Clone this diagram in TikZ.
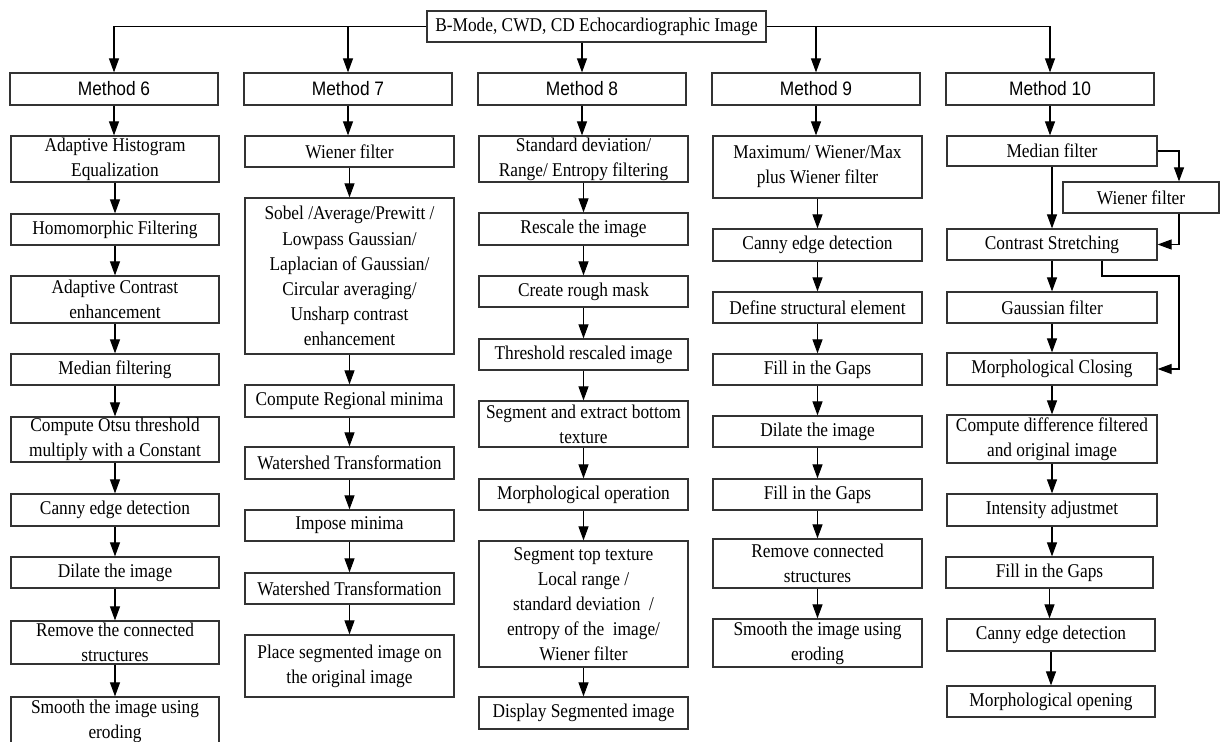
\documentclass[tikz,border=0pt]{standalone}
\usepackage{fontspec}
\setmainfont{Liberation Serif}
\newfontfamily\bodyfont{Liberation Serif}[FakeStretch=0.89]
\newfontfamily\headfont{Liberation Sans}[FakeStretch=0.89]
\usetikzlibrary{arrows.meta}

\tikzset{
  box/.style={draw=black!80, line width=0.9pt, inner sep=0pt, align=center,
    font=\bodyfont\fontsize{14.6pt}{18.8pt}\selectfont},
  headbox/.style={box, font=\headfont\fontsize{14.6pt}{18.8pt}\selectfont},
  link/.style={line width=0.8pt, draw=black},
  arr/.style={link, -{Triangle[length=10.5pt,width=7.5pt]}}
}

% \bx[style]{name}{x1}{y1}{x2}{y2}{text}: box given by its corners
\newcommand{\bx}[7][box]{%
  \node[#1, minimum width={(#5-#3)*0.75pt}, minimum height={(#6-#4)*0.75pt}]
    (#2) at ({(#3+#5)/2},{(#4+#6)/2}) {#7};}
% straight arrow from one box down to the next
\newcommand{\dn}[2]{\draw[arr] (#1) -- (#1 |- #2.north);}

\begin{document}
\begin{tikzpicture}[x=0.75pt, y=-0.75pt]
\useasboundingbox (0,0) rectangle (1221,742);
\clip (0,0) rectangle (1221,742);

% source
\bx{src}{427}{11}{766}{42}{B-Mode, CWD, CD Echocardiographic Image}

% method headers
\bx[headbox]{m6}{10}{73}{218}{105}{Method 6}
\bx[headbox]{m7}{244}{73}{452}{105}{Method 7}
\bx[headbox]{m8}{478}{73}{686}{105}{Method 8}
\bx[headbox]{m9}{712}{73}{920}{105}{Method 9}
\bx[headbox]{m10}{946}{73}{1154}{105}{Method 10}

% method 6
\bx{a1}{11}{136}{219}{182}{Adaptive Histogram\\Equalization}
\bx{a2}{11}{214}{219}{245}{Homomorphic Filtering}
\bx{a3}{11}{276}{219}{323}{Adaptive Contrast\\enhancement}
\bx{a4}{11}{354}{219}{385}{Median filtering}
\bx{a5}{11}{417}{219}{462}{Compute Otsu threshold\\multiply with a Constant}
\bx{a6}{11}{494}{219}{526}{Canny edge detection}
\bx{a7}{11}{557}{219}{588}{Dilate the image}
\bx{a8}{11}{621}{219}{664}{Remove the connected\\structures}
\bx{a9}{11}{697}{219}{745}{Smooth the image using\\eroding}

% method 7
\bx{b1}{245}{136}{454}{167}{Wiener filter}
\bx{b2}{245}{198}{454}{354}{Sobel /Average/Prewitt /\\Lowpass Gaussian/\\Laplacian of Gaussian/\\Circular averaging/\\Unsharp contrast\\enhancement}
\bx{b3}{245}{385}{454}{417}{Compute Regional minima}
\bx{b4}{245}{447}{454}{479}{Watershed Transformation}
\bx{b5}{245}{510}{454}{541}{Impose minima}
\bx{b6}{245}{573}{454}{604}{Watershed Transformation}
\bx{b7}{245}{635}{454}{697}{Place segmented image on\\the original image}

% method 8
\bx{c1}{479}{136}{688}{182}{Standard deviation/\\Range/ Entropy filtering}
\bx{c2}{479}{213}{688}{245}{Rescale the image}
\bx{c3}{479}{276}{688}{307}{Create rough mask}
\bx{c4}{479}{339}{688}{370}{Threshold rescaled image}
\bx{c5}{479}{401}{688}{447}{Segment and extract bottom\\texture}
\bx{c6}{479}{479}{688}{510}{Morphological operation}
\bx{c7}{479}{541}{688}{667}{Segment top texture\\Local range /\\standard deviation\ \ /\\entropy of the\ \ image/\\Wiener filter}
\bx{c8}{479}{697}{688}{729}{Display Segmented image}

% method 9
\bx{d1}{713}{136}{922}{198}{Maximum/ Wiener/Max\\plus Wiener filter}
\bx{d2}{713}{229}{922}{261}{Canny edge detection}
\bx{d3}{713}{292}{922}{323}{Define structural element}
\bx{d4}{713}{354}{922}{385}{Fill in the Gaps}
\bx{d5}{713}{416}{922}{447}{Dilate the image}
\bx{d6}{713}{479}{922}{510}{Fill in the Gaps}
\bx{d7}{713}{539}{922}{588}{Remove connected\\structures}
\bx{d8}{713}{619}{922}{667}{Smooth the image using\\eroding}

% method 10
\bx{e1}{947}{136}{1157}{166}{Median filter}
\bx{ew}{1063}{182}{1219}{213}{Wiener filter}
\bx{e2}{947}{229}{1157}{260}{Contrast Stretching}
\bx{e3}{947}{292}{1157}{323}{Gaussian filter}
\bx{e4}{947}{353}{1157}{385}{Morphological Closing}
\bx{e5}{947}{415}{1157}{463}{Compute difference filtered\\and original image}
\bx{e6}{947}{494}{1157}{526}{Intensity adjustmet}
\bx{e7}{946}{557}{1153}{588}{Fill in the Gaps}
\bx{e8}{947}{619}{1155}{651}{Canny edge detection}
\bx{e9}{947}{686}{1155}{717}{Morphological opening}

% source to methods
\draw[arr] (src.west) -| (m6);
\draw[arr] (src.west -| m7) -- (m7);
\draw[arr] (src.south -| m8) -- (m8);
\draw[arr] (src.east) -| (m10);
\draw[arr] (src.east -| m9) -- (m9);

% method 6 chain
\dn{m6}{a1} \dn{a1}{a2} \dn{a2}{a3} \dn{a3}{a4} \dn{a4}{a5}
\dn{a5}{a6} \dn{a6}{a7} \dn{a7}{a8} \dn{a8}{a9}

% method 7 chain
\dn{m7}{b1} \dn{b1}{b2} \dn{b2}{b3} \dn{b3}{b4} \dn{b4}{b5}
\dn{b5}{b6} \dn{b6}{b7}

% method 8 chain
\dn{m8}{c1} \dn{c1}{c2} \dn{c2}{c3} \dn{c3}{c4} \dn{c4}{c5}
\dn{c5}{c6} \dn{c6}{c7} \dn{c7}{c8}

% method 9 chain
\dn{m9}{d1} \dn{d1}{d2} \dn{d2}{d3} \dn{d3}{d4} \dn{d4}{d5}
\dn{d5}{d6} \dn{d6}{d7} \dn{d7}{d8}

% method 10 chain with the side branches
\coordinate (rt) at (1179,0);
\coordinate (cx) at (1102,0);
\coordinate (turn) at (0,276);
\dn{m10}{e1} \dn{e1}{e2}
\draw[arr] (e1.east) -| (rt |- ew.north);
\draw[arr] (rt |- ew.south) |- (e2.east);
\draw[arr] (cx |- e2.south) |- (rt |- turn) |- (e4.east);
\dn{e2}{e3} \dn{e3}{e4} \dn{e4}{e5} \dn{e5}{e6} \dn{e6}{e7}
\dn{e7}{e8} \dn{e8}{e9}
\end{tikzpicture}
\end{document}
